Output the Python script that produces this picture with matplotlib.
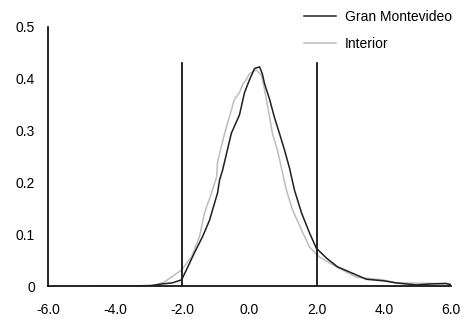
import matplotlib
matplotlib.use("Agg")
import matplotlib.pyplot as plt

plt.rcParams['font.family'] = ['Liberation Sans', 'DejaVu Sans']

# Gran Montevideo density
gm_x = [-3.0, -2.6, -2.3, -2.02, -1.88, -1.64, -1.40, -1.19, -0.95, -0.89, -0.80,
        -0.54, -0.30, -0.15, 0.0, 0.15, 0.30, 0.38, 0.45, 0.60, 0.74, 0.89,
        1.04, 1.19, 1.34, 1.55, 1.79, 1.99, 2.29, 2.62, 2.98, 3.48, 4.0,
        4.37, 4.97, 5.4, 5.86, 6.0]
gm_y = [0.0, 0.004, 0.006, 0.012, 0.031, 0.064, 0.095, 0.127, 0.180, 0.205, 0.224,
        0.295, 0.330, 0.373, 0.398, 0.420, 0.423, 0.410, 0.390, 0.360, 0.326, 0.295,
        0.263, 0.228, 0.185, 0.141, 0.102, 0.073, 0.054, 0.037, 0.027, 0.013, 0.010,
        0.006, 0.002, 0.004, 0.005, 0.002]

# Interior density
in_x = [-4.7, -3.5, -2.8, -2.53, -2.02, -1.73, -1.49, -1.34, -1.13, -0.98, -0.95,
        -0.74, -0.60, -0.45, -0.30, -0.20, -0.10, 0.0, 0.20, 0.36, 0.45, 0.60,
        0.68, 0.83, 0.95, 1.10, 1.28, 1.55, 1.79, 2.08, 2.59, 2.77, 3.18, 3.96,
        4.37, 5.36, 6.0]
in_y = [0.0, 0.0, 0.002, 0.008, 0.031, 0.056, 0.095, 0.141, 0.180, 0.210, 0.240,
        0.295, 0.326, 0.360, 0.373, 0.390, 0.398, 0.410, 0.417, 0.407, 0.378, 0.326,
        0.295, 0.263, 0.228, 0.185, 0.147, 0.108, 0.075, 0.056, 0.037, 0.031, 0.017, 0.012,
        0.006, 0.005, 0.004]

xticks = [-6.0, -4.0, -2.0, 0.0, 2.0, 4.0, 6.0]
yticks = [0, 0.1, 0.2, 0.3, 0.4, 0.5]
ytick_labels = ['0', '0.1', '0.2', '0.3', '0.4', '0.5']
cutoffs = [-2.0, 2.0]
cutoff_height = 0.43

fig = plt.figure(figsize=(4.75, 3.19), dpi=100)
ax = fig.add_axes([48/475, 1-286/319, 403/475, 259/319])

l1, = ax.plot(gm_x, gm_y, color='#1f1f1f', lw=1.1, label='Gran Montevideo')
l2, = ax.plot(in_x, in_y, color='#bdbdbd', lw=1.1, label='Interior')
l1.set_zorder(3)

for c in cutoffs:
    ax.plot([c, c], [0, cutoff_height], color='black', lw=1.2)

ax.set_xlim(-6, 6)
ax.set_ylim(0, 0.5)
ax.set_xticks(xticks)
ax.set_xticklabels([f"{v:.1f}" for v in xticks])
ax.set_yticks(yticks)
ax.set_yticklabels(ytick_labels)
ax.tick_params(length=0, labelsize=10)
ax.tick_params(axis='y', pad=9.4)
ax.tick_params(axis='x', pad=12.5)
for s in ['top', 'right']:
    ax.spines[s].set_visible(False)
for s in ['left', 'bottom']:
    ax.spines[s].set_linewidth(1.2)
    ax.spines[s].set_color('black')

leg = fig.legend(handles=[l1, l2], labels=['Gran Montevideo', 'Interior'],
                 loc='upper left', bbox_to_anchor=(304/475, 1-10/319),
                 bbox_transform=fig.transFigure, frameon=False, fontsize=10,
                 handlelength=2.3, handletextpad=0.65, labelspacing=0.95,
                 borderpad=0, borderaxespad=0)

fig.savefig('out.png', dpi=100)
